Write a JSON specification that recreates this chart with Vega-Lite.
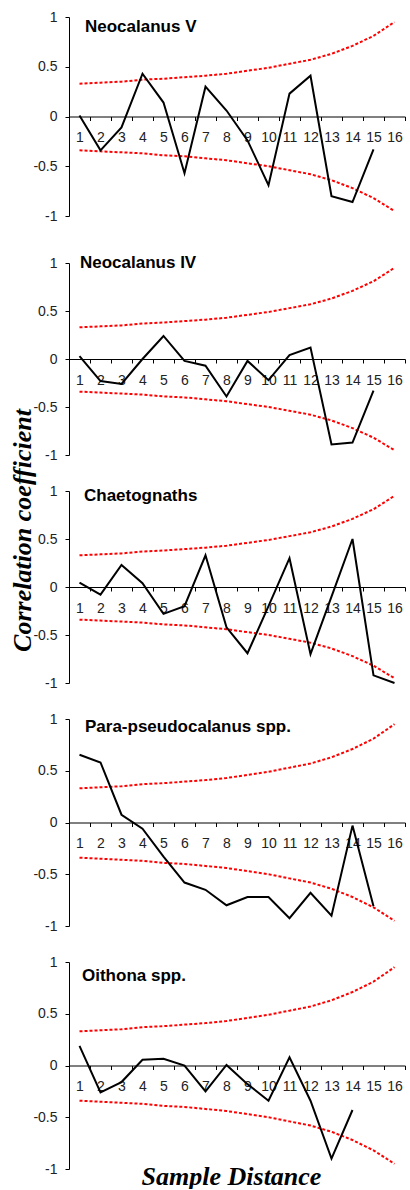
{
  "$schema": "https://vega.github.io/schema/vega-lite/v6.json",
  "padding": {"left": 8, "top": 10, "right": 5, "bottom": 0},
  "config": {
    "view": {"stroke": null},
    "axis": {"grid": false, "domainColor": "black", "tickColor": "black", "labelFont": "Liberation Sans", "labelFontSize": 14, "labelColor": "#222", "tickSize": 4},
    "title": {"font": "Liberation Sans", "fontSize": 17, "fontWeight": "bold", "color": "black", "anchor": "start", "frame": "group", "baseline": "alphabetic"}
  },
  "datasets": {
    "corr": [
      {"panel": "Neocalanus V", "lag": 1, "r": 0.01}, {"panel": "Neocalanus V", "lag": 2, "r": -0.34}, {"panel": "Neocalanus V", "lag": 3, "r": -0.11}, {"panel": "Neocalanus V", "lag": 4, "r": 0.43}, {"panel": "Neocalanus V", "lag": 5, "r": 0.14}, {"panel": "Neocalanus V", "lag": 6, "r": -0.57}, {"panel": "Neocalanus V", "lag": 7, "r": 0.30}, {"panel": "Neocalanus V", "lag": 8, "r": 0.06}, {"panel": "Neocalanus V", "lag": 9, "r": -0.24}, {"panel": "Neocalanus V", "lag": 10, "r": -0.69}, {"panel": "Neocalanus V", "lag": 11, "r": 0.23}, {"panel": "Neocalanus V", "lag": 12, "r": 0.41}, {"panel": "Neocalanus V", "lag": 13, "r": -0.80}, {"panel": "Neocalanus V", "lag": 14, "r": -0.86}, {"panel": "Neocalanus V", "lag": 15, "r": -0.33},
      {"panel": "Neocalanus IV", "lag": 1, "r": 0.03}, {"panel": "Neocalanus IV", "lag": 2, "r": -0.23}, {"panel": "Neocalanus IV", "lag": 3, "r": -0.26}, {"panel": "Neocalanus IV", "lag": 4, "r": 0.0}, {"panel": "Neocalanus IV", "lag": 5, "r": 0.24}, {"panel": "Neocalanus IV", "lag": 6, "r": -0.02}, {"panel": "Neocalanus IV", "lag": 7, "r": -0.07}, {"panel": "Neocalanus IV", "lag": 8, "r": -0.39}, {"panel": "Neocalanus IV", "lag": 9, "r": -0.02}, {"panel": "Neocalanus IV", "lag": 10, "r": -0.22}, {"panel": "Neocalanus IV", "lag": 11, "r": 0.04}, {"panel": "Neocalanus IV", "lag": 12, "r": 0.12}, {"panel": "Neocalanus IV", "lag": 13, "r": -0.89}, {"panel": "Neocalanus IV", "lag": 14, "r": -0.87}, {"panel": "Neocalanus IV", "lag": 15, "r": -0.33},
      {"panel": "Chaetognaths", "lag": 1, "r": 0.045}, {"panel": "Chaetognaths", "lag": 2, "r": -0.08}, {"panel": "Chaetognaths", "lag": 3, "r": 0.23}, {"panel": "Chaetognaths", "lag": 4, "r": 0.04}, {"panel": "Chaetognaths", "lag": 5, "r": -0.28}, {"panel": "Chaetognaths", "lag": 6, "r": -0.20}, {"panel": "Chaetognaths", "lag": 7, "r": 0.33}, {"panel": "Chaetognaths", "lag": 8, "r": -0.42}, {"panel": "Chaetognaths", "lag": 9, "r": -0.69}, {"panel": "Chaetognaths", "lag": 10, "r": -0.20}, {"panel": "Chaetognaths", "lag": 11, "r": 0.30}, {"panel": "Chaetognaths", "lag": 12, "r": -0.70}, {"panel": "Chaetognaths", "lag": 13, "r": -0.10}, {"panel": "Chaetognaths", "lag": 14, "r": 0.50}, {"panel": "Chaetognaths", "lag": 15, "r": -0.92}, {"panel": "Chaetognaths", "lag": 16, "r": -1.0},
      {"panel": "Para-pseudocalanus spp.", "lag": 1, "r": 0.655}, {"panel": "Para-pseudocalanus spp.", "lag": 2, "r": 0.58}, {"panel": "Para-pseudocalanus spp.", "lag": 3, "r": 0.075}, {"panel": "Para-pseudocalanus spp.", "lag": 4, "r": -0.06}, {"panel": "Para-pseudocalanus spp.", "lag": 5, "r": -0.33}, {"panel": "Para-pseudocalanus spp.", "lag": 6, "r": -0.58}, {"panel": "Para-pseudocalanus spp.", "lag": 7, "r": -0.65}, {"panel": "Para-pseudocalanus spp.", "lag": 8, "r": -0.80}, {"panel": "Para-pseudocalanus spp.", "lag": 9, "r": -0.72}, {"panel": "Para-pseudocalanus spp.", "lag": 10, "r": -0.72}, {"panel": "Para-pseudocalanus spp.", "lag": 11, "r": -0.925}, {"panel": "Para-pseudocalanus spp.", "lag": 12, "r": -0.68}, {"panel": "Para-pseudocalanus spp.", "lag": 13, "r": -0.90}, {"panel": "Para-pseudocalanus spp.", "lag": 14, "r": -0.03}, {"panel": "Para-pseudocalanus spp.", "lag": 15, "r": -0.81},
      {"panel": "Oithona spp.", "lag": 1, "r": 0.19}, {"panel": "Oithona spp.", "lag": 2, "r": -0.26}, {"panel": "Oithona spp.", "lag": 3, "r": -0.16}, {"panel": "Oithona spp.", "lag": 4, "r": 0.055}, {"panel": "Oithona spp.", "lag": 5, "r": 0.065}, {"panel": "Oithona spp.", "lag": 6, "r": 0.0}, {"panel": "Oithona spp.", "lag": 7, "r": -0.25}, {"panel": "Oithona spp.", "lag": 8, "r": 0.005}, {"panel": "Oithona spp.", "lag": 9, "r": -0.18}, {"panel": "Oithona spp.", "lag": 10, "r": -0.34}, {"panel": "Oithona spp.", "lag": 11, "r": 0.08}, {"panel": "Oithona spp.", "lag": 12, "r": -0.34}, {"panel": "Oithona spp.", "lag": 13, "r": -0.90}, {"panel": "Oithona spp.", "lag": 14, "r": -0.43}
    ],
    "bounds": [
      {"side": "upper", "lag": 1, "r": 0.33}, {"side": "upper", "lag": 2, "r": 0.34}, {"side": "upper", "lag": 3, "r": 0.35}, {"side": "upper", "lag": 4, "r": 0.37}, {"side": "upper", "lag": 5, "r": 0.38}, {"side": "upper", "lag": 6, "r": 0.395}, {"side": "upper", "lag": 7, "r": 0.41}, {"side": "upper", "lag": 8, "r": 0.43}, {"side": "upper", "lag": 9, "r": 0.46}, {"side": "upper", "lag": 10, "r": 0.49}, {"side": "upper", "lag": 11, "r": 0.53}, {"side": "upper", "lag": 12, "r": 0.57}, {"side": "upper", "lag": 13, "r": 0.63}, {"side": "upper", "lag": 14, "r": 0.71}, {"side": "upper", "lag": 15, "r": 0.81}, {"side": "upper", "lag": 16, "r": 0.95},
      {"side": "lower", "lag": 1, "r": -0.34}, {"side": "lower", "lag": 2, "r": -0.35}, {"side": "lower", "lag": 3, "r": -0.36}, {"side": "lower", "lag": 4, "r": -0.37}, {"side": "lower", "lag": 5, "r": -0.39}, {"side": "lower", "lag": 6, "r": -0.40}, {"side": "lower", "lag": 7, "r": -0.42}, {"side": "lower", "lag": 8, "r": -0.44}, {"side": "lower", "lag": 9, "r": -0.47}, {"side": "lower", "lag": 10, "r": -0.50}, {"side": "lower", "lag": 11, "r": -0.54}, {"side": "lower", "lag": 12, "r": -0.58}, {"side": "lower", "lag": 13, "r": -0.64}, {"side": "lower", "lag": 14, "r": -0.72}, {"side": "lower", "lag": 15, "r": -0.82}, {"side": "lower", "lag": 16, "r": -0.95}
    ]
  },
  "spacing": 47,
  "bounds": "flush",
  "vconcat": [
    {
      "width": 336, "height": 199,
      "title": {"text": "Neocalanus V", "offset": -26, "dx": 16},
      "encoding": {
        "x": {"field": "lag", "type": "ordinal", "scale": {"type": "band", "domain": [1,2,3,4,5,6,7,8,9,10,11,12,13,14,15,16], "paddingInner": 0, "paddingOuter": 0}, "axis": {"title": null, "offset": -99.5, "tickBand": "extent", "labelAngle": 0, "labelPadding": 10, "labelOverlap": false}},
        "y": {"field": "r", "type": "quantitative", "scale": {"domain": [-1, 1], "nice": false, "zero": false}, "axis": {"title": null, "values": [-1, -0.5, 0, 0.5, 1], "labelPadding": 8, "labelExpr": "'' + datum.value", "labelFlush": false}}
      },
      "layer": [
        {"data": {"name": "bounds"}, "mark": {"type": "line", "color": "#ff0000", "strokeWidth": 2, "strokeDash": [3, 2]}, "encoding": {"detail": {"field": "side"}}},
        {"data": {"name": "corr"}, "transform": [{"filter": "datum.panel == 'Neocalanus V'"}], "mark": {"type": "line", "color": "black", "strokeWidth": 2}, "encoding": {}}
      ]
    },
    {
      "spacing": 36,
      "bounds": "flush",
      "vconcat": [
        {
          "width": 336, "height": 192,
          "title": {"text": "Neocalanus IV", "offset": -16, "dx": 11},
          "encoding": {
            "x": {"field": "lag", "type": "ordinal", "scale": {"type": "band", "domain": [1,2,3,4,5,6,7,8,9,10,11,12,13,14,15,16], "paddingInner": 0, "paddingOuter": 0}, "axis": {"title": null, "offset": -96, "tickBand": "extent", "labelAngle": 0, "labelPadding": 10, "labelOverlap": false}},
            "y": {"field": "r", "type": "quantitative", "scale": {"domain": [-1, 1], "nice": false, "zero": false}, "axis": {"title": null, "values": [-1, -0.5, 0, 0.5, 1], "labelPadding": 8, "labelExpr": "'' + datum.value", "labelFlush": false}}
          },
          "layer": [
            {"data": {"name": "bounds"}, "mark": {"type": "line", "color": "#ff0000", "strokeWidth": 2, "strokeDash": [3, 2]}, "encoding": {"detail": {"field": "side"}}},
            {"data": {"name": "corr"}, "transform": [{"filter": "datum.panel == 'Neocalanus IV'"}], "mark": {"type": "line", "color": "black", "strokeWidth": 2}, "encoding": {}}
          ]
        },
        {
          "width": 336, "height": 192,
          "title": {"text": "Chaetognaths", "offset": -96, "dx": 15},
          "encoding": {
            "x": {"field": "lag", "type": "ordinal", "scale": {"type": "band", "domain": [1,2,3,4,5,6,7,8,9,10,11,12,13,14,15,16], "paddingInner": 0, "paddingOuter": 0}, "axis": {"title": null, "offset": -96, "tickBand": "extent", "labelAngle": 0, "labelPadding": 10, "labelOverlap": false}},
            "y": {"field": "r", "type": "quantitative", "scale": {"domain": [-1, 1], "nice": false, "zero": false}, "axis": {"title": "Correlation coefficient", "titleFont": "Liberation Serif", "titleFontSize": 26, "titleFontStyle": "italic", "titleFontWeight": "bold", "titleColor": "black", "titleAngle": 270, "titleAlign": "center", "titleBaseline": "alphabetic", "titleX": -39, "titleY": 39, "values": [-1, -0.5, 0, 0.5, 1], "labelPadding": 8, "labelExpr": "'' + datum.value", "labelFlush": false}}
          },
          "layer": [
            {"data": {"name": "bounds"}, "mark": {"type": "line", "color": "#ff0000", "strokeWidth": 2, "strokeDash": [3, 2]}, "encoding": {"detail": {"field": "side"}}},
            {"data": {"name": "corr"}, "transform": [{"filter": "datum.panel == 'Chaetognaths'"}], "mark": {"type": "line", "color": "black", "strokeWidth": 2}, "encoding": {}}
          ]
        },
        {
          "width": 336, "height": 207,
          "title": {"text": "Para-pseudocalanus spp.", "offset": -24, "dx": 16},
          "encoding": {
            "x": {"field": "lag", "type": "ordinal", "scale": {"type": "band", "domain": [1,2,3,4,5,6,7,8,9,10,11,12,13,14,15,16], "paddingInner": 0, "paddingOuter": 0}, "axis": {"title": null, "offset": -103.5, "tickBand": "extent", "labelAngle": 0, "labelPadding": 10, "labelOverlap": false}},
            "y": {"field": "r", "type": "quantitative", "scale": {"domain": [-1, 1], "nice": false, "zero": false}, "axis": {"title": null, "values": [-1, -0.5, 0, 0.5, 1], "labelPadding": 8, "labelExpr": "'' + datum.value", "labelFlush": false}}
          },
          "layer": [
            {"data": {"name": "bounds"}, "mark": {"type": "line", "color": "#ff0000", "strokeWidth": 2, "strokeDash": [3, 2]}, "encoding": {"detail": {"field": "side"}}},
            {"data": {"name": "corr"}, "transform": [{"filter": "datum.panel == 'Para-pseudocalanus spp.'"}], "mark": {"type": "line", "color": "black", "strokeWidth": 2}, "encoding": {}}
          ]
        },
        {
          "width": 336, "height": 207,
          "title": {"text": "Oithona spp.", "offset": -30, "dx": 13},
          "encoding": {
            "x": {"field": "lag", "type": "ordinal", "scale": {"type": "band", "domain": [1,2,3,4,5,6,7,8,9,10,11,12,13,14,15,16], "paddingInner": 0, "paddingOuter": 0}, "axis": {"title": "Sample Distance", "titleFont": "Liberation Serif", "titleFontSize": 26, "titleFontStyle": "italic", "titleFontWeight": "bold", "titleColor": "black", "titleAlign": "center", "titleBaseline": "alphabetic", "titleX": 162, "titleY": 118.5, "offset": -103.5, "tickBand": "extent", "labelAngle": 0, "labelPadding": 10, "labelOverlap": false}},
            "y": {"field": "r", "type": "quantitative", "scale": {"domain": [-1, 1], "nice": false, "zero": false}, "axis": {"title": null, "values": [-1, -0.5, 0, 0.5, 1], "labelPadding": 8, "labelExpr": "'' + datum.value", "labelFlush": false}}
          },
          "layer": [
            {"data": {"name": "bounds"}, "mark": {"type": "line", "color": "#ff0000", "strokeWidth": 2, "strokeDash": [3, 2]}, "encoding": {"detail": {"field": "side"}}},
            {"data": {"name": "corr"}, "transform": [{"filter": "datum.panel == 'Oithona spp.'"}], "mark": {"type": "line", "color": "black", "strokeWidth": 2}, "encoding": {}}
          ]
        }
      ]
    }
  ]
}
